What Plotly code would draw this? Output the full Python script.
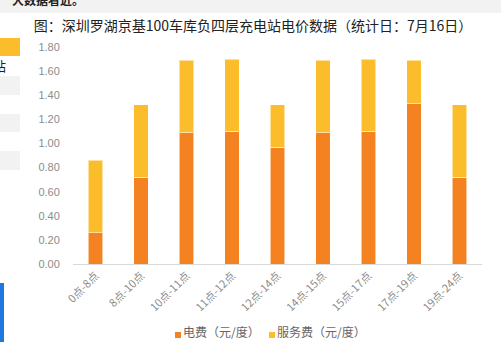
import plotly.graph_objects as go

categories = ["0点-8点", "8点-10点", "10点-11点", "11点-12点", "12点-14点",
              "14点-15点", "15点-17点", "17点-19点", "19点-24点"]
electricity = [0.26, 0.72, 1.09, 1.10, 0.97, 1.09, 1.10, 1.33, 0.72]
service = [0.60, 0.60, 0.60, 0.60, 0.35, 0.60, 0.60, 0.36, 0.60]
series_names = ["电费（元/度）", "服务费（元/度）"]
y_ticks = [0.0, 0.2, 0.4, 0.6, 0.8, 1.0, 1.2, 1.4, 1.6, 1.8]
title_text = "图：深圳罗湖京基100车库负四层充电站电价数据（统计日：7月16日）"

ORANGE = "#F58220"
YELLOW = "#FBBD2B"
FONT = "Noto Sans CJK SC"

W, H = 501, 342
L, R, T, B = 73, 19, 47, 78

def px(x):
    return (x - L) / (W - L - R)

def py(y):
    return (H - B - y) / (H - T - B)

fig = go.Figure()
line = dict(color="rgba(255,255,255,0.55)", width=1)
fig.add_trace(go.Bar(x=categories, y=electricity, name=series_names[0],
                     marker=dict(color=ORANGE, line=line), showlegend=False))
fig.add_trace(go.Bar(x=categories, y=service, name=series_names[1],
                     marker=dict(color=YELLOW, line=line), showlegend=False))

shapes = []
annotations = []
# page artifacts around the chart
shapes.append(dict(type="rect", xref="paper", yref="paper", x0=px(0), x1=px(W),
                   y0=py(13), y1=py(0), fillcolor="#f2f2f2", line=dict(width=0), layer="below"))
shapes.append(dict(type="rect", xref="paper", yref="paper", x0=px(0), x1=px(20),
                   y0=py(56), y1=py(38), fillcolor="#FBBD2B", line=dict(width=0)))
for y0, y1 in [(76, 95), (114, 132), (151, 170)]:
    shapes.append(dict(type="rect", xref="paper", yref="paper", x0=px(0), x1=px(20),
                       y0=py(y1), y1=py(y0), fillcolor="#f2f2f2", line=dict(width=0)))
shapes.append(dict(type="rect", xref="paper", yref="paper", x0=px(0), x1=px(4),
                   y0=py(342), y1=py(283), fillcolor="#1f78e0", line=dict(width=0)))
annotations.append(dict(text="站", xref="paper", yref="paper", x=px(8), y=py(66), xanchor="right",
                        yanchor="middle", showarrow=False,
                        font=dict(family=FONT, size=13, color="#222")))
annotations.append(dict(text="<b>大数据看近。</b>", xref="paper", yref="paper", x=px(86), y=py(-1),
                        xanchor="right", yanchor="middle", showarrow=False,
                        font=dict(family=FONT, size=12, color="#222")))

# legend (small squares + labels)
legend_x = [175, 269]
for nm, c, lx in zip(series_names, [ORANGE, YELLOW], legend_x):
    shapes.append(dict(type="rect", xref="paper", yref="paper", x0=px(lx), x1=px(lx + 6),
                       y0=py(338), y1=py(332), fillcolor=c, line=dict(width=0)))
    annotations.append(dict(text=nm, xref="paper", yref="paper", x=px(lx + 6), y=py(342),
                            xanchor="left", yanchor="bottom", showarrow=False,
                            font=dict(family=FONT, size=12, color="#666")))

fig.update_layout(
    width=W, height=H,
    margin=dict(l=L, r=R, t=T, b=B),
    barmode="stack", bargap=0.68, showlegend=False,
    paper_bgcolor="white", plot_bgcolor="white",
    title=dict(text=title_text, x=253 / W, xanchor="center", y=1 - 26 / H,
               yanchor="middle", yref="container",
               font=dict(family=FONT, size=14, color="#222")),
    xaxis=dict(showgrid=False, showline=True, linecolor="#d9d9d9", linewidth=1,
               tickangle=-45, tickfont=dict(family=FONT, size=11, color="#8c8c8c"),
               ticks="", zeroline=False, automargin=False),
    yaxis=dict(range=[0, 1.8], tickvals=y_ticks, ticktext=[f"{v:.2f}" for v in y_ticks],
               showgrid=False, zeroline=False, showline=False, automargin=False,
               tickfont=dict(family="Liberation Sans", size=11, color="#8c8c8c"),
               ticks="outside", ticklen=10, tickcolor="rgba(0,0,0,0)"),
    shapes=shapes, annotations=annotations,
)

fig.write_html("out.html")
